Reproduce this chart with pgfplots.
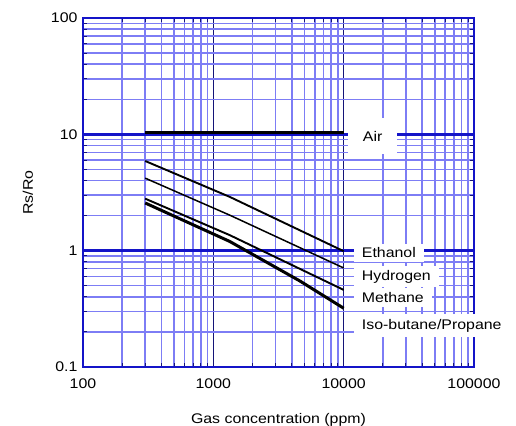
\documentclass[border=0pt]{standalone}
\usepackage{fontspec}
\setmainfont{Liberation Sans}[FakeStretch=1.14]
\usepackage{pgfplots}
\pgfplotsset{compat=1.18}
\definecolor{gmaj}{RGB}{20,20,200}
\definecolor{gmin}{RGB}{125,125,245}
\definecolor{gnav}{RGB}{20,20,120}
\newcommand{\lf}{\fontsize{14}{16}\selectfont}
\begin{document}
\begin{tikzpicture}
\begin{axis}[
  at={(0,0)}, anchor=south west,
  scale only axis, width=391bp, height=349bp,
  xmode=log, ymode=log,
  xmin=100, xmax=100000, ymin=0.1, ymax=100,
  xtick={100,1000,10000,100000},
  xticklabels={100,1000,10000,100000},
  ytick={0.1,1,10,100},
  yticklabels={0.1,1,10,100},
  grid=both,
  minor grid style={gmin, line width=1.6bp},
  major grid style={gnav, line width=0.9bp},
  extra y ticks={1,10},
  extra y tick labels={},
  extra y tick style={grid=major, major grid style={gmaj, line width=2.6bp}, major tick length=0pt},
  axis line style={gmaj, line width=2.6bp},
  tick style={gnav, line width=1bp},
  major tick length=4bp, minor tick length=4bp,
  tick label style={font=\lf},
  xticklabel style={yshift=-8bp},
  yticklabel style={xshift=-2bp},
  xlabel={Gas concentration (ppm)},
  ylabel={Rs/Ro},
  every axis x label/.style={at={(axis description cs:0.5,-0.152)}, anchor=center, font=\lf},
  every axis y label/.style={at={(axis description cs:-0.1407,0.5)}, anchor=center, rotate=90, font=\lf},
  clip=false,
]
\addplot[black, line width=3bp] coordinates {(300,10.3) (10000,10.3)};
\addplot[black, line width=1.9bp] coordinates {(300,5.9) (1336,2.9) (10000,0.99)};
\addplot[black, line width=1.5bp] coordinates {(300,4.2) (1336,2.02) (10000,0.71)};
\addplot[black, line width=1.9bp] coordinates {(300,2.8) (1336,1.36) (10000,0.46)};
\addplot[black, line width=3bp] coordinates {(300,2.57) (1336,1.2) (4600,0.55) (10000,0.32)};
\node[fill=white, inner xsep=15bp, inner ysep=13bp, font=\lf] at (axis cs:16680,9.6) {Air};
\node[fill=white, anchor=west, inner xsep=8bp, inner ysep=4bp, font=\lf] at (axis cs:11940,0.96) {Ethanol};
\node[fill=white, anchor=west, inner xsep=8bp, inner ysep=4bp, font=\lf] at (axis cs:11940,0.598) {Hydrogen};
\node[fill=white, anchor=west, inner xsep=8bp, inner ysep=4bp, font=\lf] at (axis cs:11940,0.395) {Methane};
\node[fill=white, anchor=west, inner xsep=8bp, inner ysep=5bp, font=\lf] at (axis cs:11940,0.227) {Iso-butane/Propane};
\end{axis}
\pgfresetboundingbox
\useasboundingbox (-83bp,-59bp) rectangle (433bp,367bp);
\end{tikzpicture}
\end{document}
